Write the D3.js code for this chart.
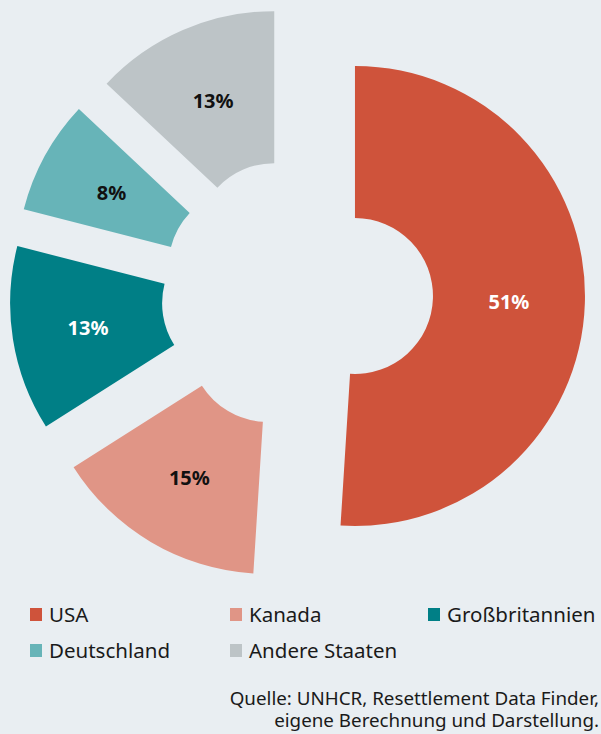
<!DOCTYPE html>
<html lang="de">
    <head>
        <meta charset="utf-8">
        <title>Resettlement nach Aufnahmestaaten</title>
        <style>
            body {
                margin: 0;
                background-color: #e9eef2;
            }
            svg {
                display: block;
                background-color: #e9eef2;
                font-family: "Noto Sans", sans-serif;
            }
        </style>
        <script src="https://d3js.org/d3.v7.min.js"></script>
    </head>
    <body></body>
    <script>

        // data
        let categories = ["USA", "Kanada", "Großbritannien", "Deutschland", "Andere Staaten"]
        let shares = [51, 15, 13, 8, 13]
        let colors = ["#cf533b", "#e09586", "#007f86", "#67b4b8", "#bdc4c7"]
        let labelColors = ["#ffffff", "#111111", "#ffffff", "#111111", "#111111"]
        let sourceLines = ["Quelle: UNHCR, Resettlement Data Finder,", "eigene Berechnung und Darstellung."]

        let width = 601
        let height = 734
        let cx = 297.2
        let cy = 294.2
        let outerRadius = 230
        let innerRadius = 78
        let explode = 57.8

        let data = categories.map((c, i) => ({name: c, value: shares[i], color: colors[i], labelColor: labelColors[i]}))

        let svg = d3.select("body")
            .append("svg")
            .attr("width", width)
            .attr("height", height)

        let drawPie = () => {
            let pie = d3.pie()
                .value((d) => d.value)
                .sort(null)

            let arc = d3.arc()
                .innerRadius(innerRadius)
                .outerRadius(outerRadius)

            let g = svg.append("g")
                .attr("transform", `translate(${cx},${cy})`)

            let slices = g.selectAll("g.slice")
                .data(pie(data))
                .enter()
                .append("g")
                .attr("class", "slice")
                .attr("transform", (d) => {
                    let mid = (d.startAngle + d.endAngle) / 2
                    return `translate(${explode * Math.sin(mid)},${-explode * Math.cos(mid)})`
                })

            slices.append("path")
                .attr("d", arc)
                .attr("fill", (d) => d.data.color)

            slices.append("text")
                .attr("transform", (d) => `translate(${arc.centroid(d)})`)
                .attr("text-anchor", "middle")
                .attr("dy", "0.4em")
                .attr("font-size", "20px")
                .attr("font-weight", "bold")
                .attr("fill", (d) => d.data.labelColor)
                .text((d) => d.data.value + "%")
        }

        let drawLegend = () => {
            let colX = [30, 230, 428]
            let rowY = [622, 658]

            let legend = svg.append("g")
                .attr("id", "legend")

            let items = legend.selectAll("g")
                .data(data)
                .enter()
                .append("g")
                .attr("transform", (d, i) => `translate(${colX[i % 3]},${rowY[Math.floor(i / 3)]})`)

            items.append("rect")
                .attr("x", 0)
                .attr("y", -14)
                .attr("width", 12)
                .attr("height", 13)
                .attr("fill", (d) => d.color)

            items.append("text")
                .attr("x", 19)
                .attr("y", 0)
                .attr("font-size", "20.5px")
                .attr("fill", "#1a1a1a")
                .text((d) => d.name)
        }

        let drawSource = () => {
            svg.append("g")
                .selectAll("text")
                .data(sourceLines)
                .enter()
                .append("text")
                .attr("x", 599)
                .attr("y", (d, i) => 705 + i * 21.5)
                .attr("text-anchor", "end")
                .attr("font-size", "18.8px")
                .attr("fill", "#1a1a1a")
                .text((d) => d)
        }

        drawPie()
        drawLegend()
        drawSource()
    </script>
</html>
